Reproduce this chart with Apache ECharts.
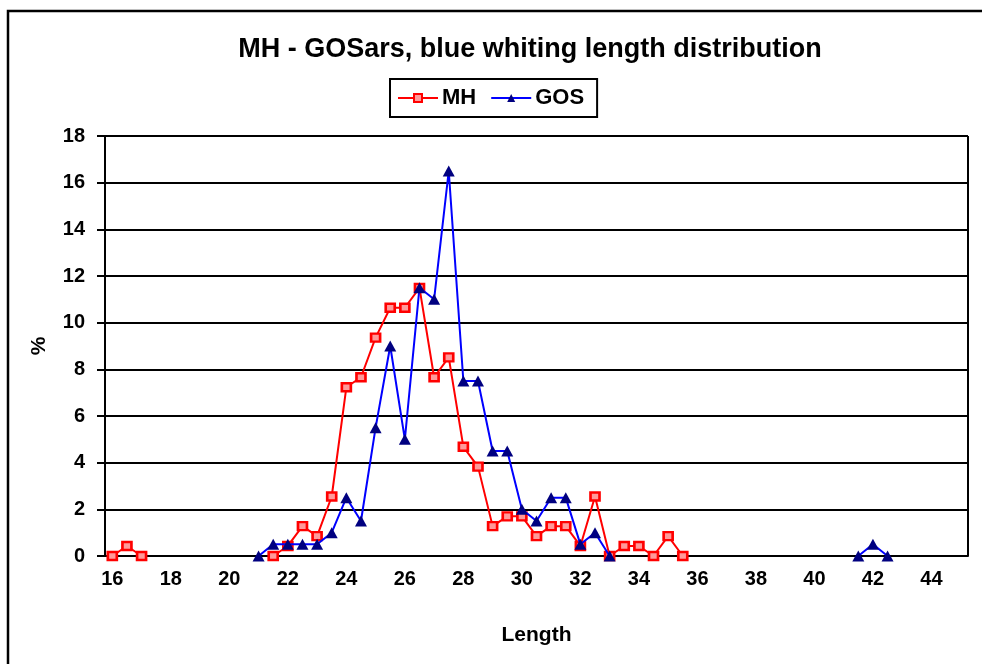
<!DOCTYPE html>
<html>
<head>
<meta charset="utf-8">
<title>MH - GOSars, blue whiting length distribution</title>
<script src="https://cdn.jsdelivr.net/npm/echarts@6/dist/echarts.min.js"></script>
<style>
    html, body { margin: 0; padding: 0; background: #fff; }
    #chart { width: 982px; height: 664px; }
</style>
</head>
<body>
<div id="chart"></div>
<script>
// length classes, 16 - 45 cm in half cm steps
var lengths = [];
for (var l = 16; l <= 45; l += 0.5) { lengths.push(String(l)); }

// % per length class, null = no fish in that class
var mhValues = [
    0, 0.43, 0, null, null, null, null, null, null, null,   // 16 - 20.5
    null, 0, 0.43, 1.28, 0.85, 2.55, 7.23, 7.66, 9.36, 10.64, // 21 - 25.5
    10.64, 11.49, 7.66, 8.51, 4.68, 3.83, 1.28, 1.70, 1.70, 0.85, // 26 - 30.5
    1.28, 1.28, 0.43, 2.55, 0, 0.43, 0.43, 0, 0.85, 0,      // 31 - 35.5
    null, null, null, null, null, null, null, null, null, null, // 36 - 40.5
    null, null, null, null, null, null, null, null, null    // 41 - 45
];
var gosValues = [
    null, null, null, null, null, null, null, null, null, null, // 16 - 20.5
    0, 0.5, 0.5, 0.5, 0.5, 1, 2.5, 1.5, 5.5, 9,             // 21 - 25.5
    5, 11.5, 11, 16.5, 7.5, 7.5, 4.5, 4.5, 2, 1.5,          // 26 - 30.5
    2.5, 2.5, 0.5, 1, 0, null, null, null, null, null,      // 31 - 35.5
    null, null, null, null, null, null, null, null, null, null, // 36 - 40.5
    null, 0, 0.5, 0, null, null, null, null, null           // 41 - 45
];
var yTicks = [0, 2, 4, 6, 8, 10, 12, 14, 16, 18];

var font = "Arial, 'Liberation Sans', sans-serif";
var chart = echarts.init(document.getElementById("chart"));
var option = {
    backgroundColor: "#fff",
    animation: false,
    title: {
        text: "MH - GOSars, blue whiting length distribution",
        left: 525,
        top: 31,
        textAlign: "center",
        textStyle: { fontFamily: font, fontWeight: "bold", fontSize: 27, color: "#000" }
    },
    legend: {
        left: 390,
        top: 79,
        itemWidth: 40,
        itemHeight: 10,
        itemGap: 14,
        padding: [8, 13, 8, 7],
        borderColor: "#000",
        borderWidth: 2,
        textStyle: { fontFamily: font, fontWeight: "bold", fontSize: 22, color: "#000", padding: [0, 0, 0, -1] },
        data: ["MH", "GOS"]
    },
    grid: { left: 105, right: 14, top: 136, bottom: 108 },
    xAxis: {
        type: "category",
        data: lengths,
        boundaryGap: true,
        name: "Length",
        nameLocation: "middle",
        nameGap: 69,
        nameTextStyle: { fontFamily: font, fontWeight: "bold", fontSize: 21, color: "#000" },
        axisLine: { lineStyle: { color: "#000", width: 2 } },
        axisTick: { interval: 0, length: 7, lineStyle: { color: "#000", width: 2 } },
        axisLabel: {
            interval: 3,
            margin: 13,
            fontFamily: font, fontWeight: "bold", fontSize: 20, color: "#000"
        },
        splitLine: { show: false }
    },
    yAxis: {
        type: "value",
        min: 0,
        max: 18,
        interval: 2,
        name: "%",
        nameLocation: "middle",
        nameGap: 55,
        nameRotate: 90,
        nameTextStyle: { fontFamily: font, fontWeight: "bold", fontSize: 21, color: "#000" },
        axisLine: { show: true, lineStyle: { color: "#000", width: 2 } },
        axisTick: { show: true, length: 8, lineStyle: { color: "#000", width: 2 } },
        axisLabel: {
            margin: 20,
            fontFamily: font, fontWeight: "bold", fontSize: 20, color: "#000",
            formatter: function (v) { return yTicks.indexOf(v) >= 0 ? String(v) : ""; }
        },
        splitLine: { lineStyle: { color: "#000", width: 2 } }
    },
    graphic: [{
        // outer chart frame
        type: "rect",
        shape: { x: 8, y: 11, width: 1000, height: 700 },
        style: { fill: null, stroke: "#000", lineWidth: 2.5 },
        z: -1
    }, {
        // right side of the plot area
        type: "line",
        shape: { x1: 968, y1: 136, x2: 968, y2: 556 },
        style: { stroke: "#000", lineWidth: 2 }
    }],
    series: [
        {
            name: "MH",
            type: "line",
            data: mhValues,
            connectNulls: false,
            symbol: "rect",
            symbolSize: [9, 8],
            showAllSymbol: true,
            lineStyle: { color: "#ff0000", width: 2 },
            itemStyle: { color: "#ff9a9a", borderColor: "#ff0000", borderWidth: 2.5 },
            z: 3
        },
        {
            name: "GOS",
            type: "line",
            data: gosValues,
            connectNulls: false,
            symbol: "triangle",
            symbolSize: [12, 11],
            showAllSymbol: true,
            lineStyle: { color: "#0000ff", width: 2 },
            itemStyle: { color: "#000080", borderColor: "#000080", borderWidth: 0 },
            z: 4
        }
    ]
};
chart.setOption(option);
</script>
</body>
</html>
